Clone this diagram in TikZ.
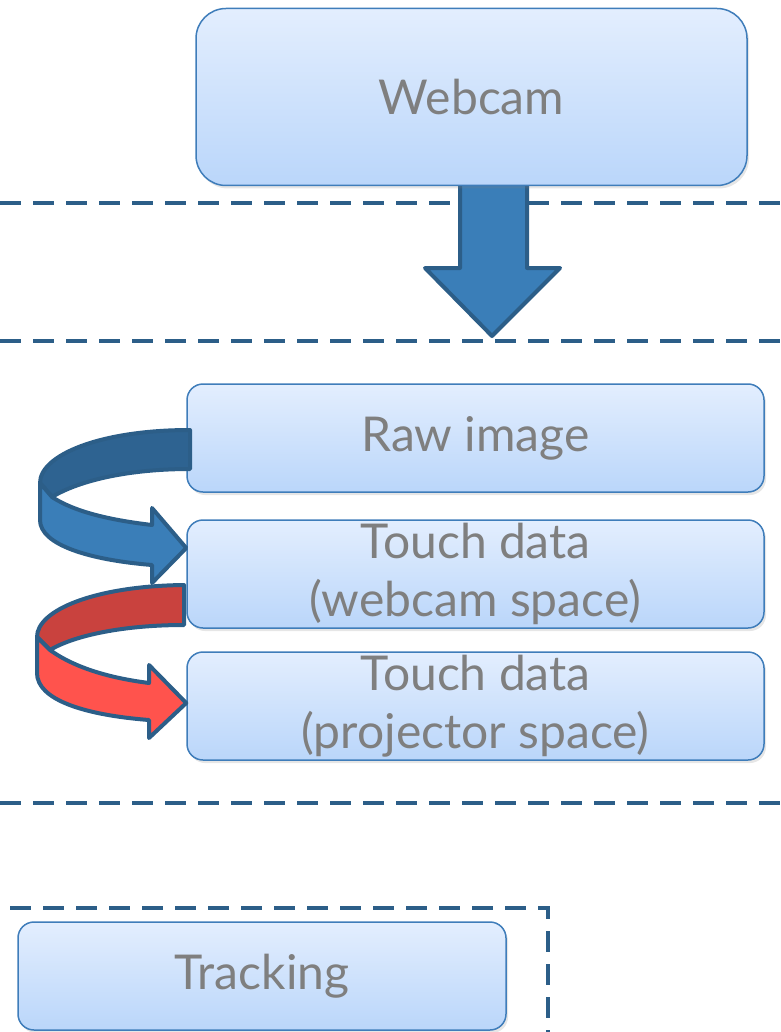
\documentclass[tikz,border=0pt]{standalone}
\usepackage{fontspec}
\setmainfont{Lato}
\usetikzlibrary{shadows,calc}

\definecolor{boxtop}{HTML}{E3EEFE}
\definecolor{boxbot}{HTML}{BAD6FA}
\definecolor{boxline}{HTML}{3F7DBA}
\definecolor{textgray}{HTML}{7F7F7F}
\definecolor{linedark}{HTML}{2C5E88}
\definecolor{arrowblue}{HTML}{3A7EB8}
\definecolor{backblue}{HTML}{2E6391}
\definecolor{redfront}{HTML}{FF534D}
\definecolor{redback}{HTML}{C9423E}

\begin{document}
\begin{tikzpicture}[x=1pt, y=-1pt,
    stagebox/.style={draw=boxline, line width=1.5pt, rounded corners=16pt,
                     top color=boxtop, bottom color=boxbot,
                     drop shadow={opacity=0.2, shadow xshift=2pt, shadow yshift=-3pt},
                     text=textgray, align=center, inner sep=0pt,
                     font=\fontsize{48}{58}\selectfont},
    divider/.style={draw=linedark, line width=4.5pt, dash pattern=on 21pt off 12pt},
    ribbon/.style={draw=linedark, line width=4pt, line join=round}]
    \useasboundingbox (0,0) rectangle (780,1032);

    % Dashed dividers
    \draw[divider] (0,203) -- (780,203);
    \draw[divider] (0,341) -- (780,341);
    \draw[divider] (0,803) -- (780,803);
    \draw[divider] (10,908) -- (548,908) -- (548,1040);

    % Down arrow out of the webcam
    \draw[ribbon, fill=arrowblue] (460,184) -- (460,268) -- (425,268) -- (492,336)
        -- (560,268) -- (527,268) -- (527,184) -- cycle;

    % Stages
    \node[stagebox, minimum width=551pt, minimum height=177pt, rounded corners=30pt]
        (webcam) at (471.5,97) {Webcam};
    \node[stagebox, minimum width=577pt, minimum height=108pt]
        (raw) at (475.5,438) {Raw image};
    \node[stagebox, minimum width=577pt, minimum height=108pt]
        (touchcam) at (475.5,574) {Touch data\\(webcam space)};
    \node[stagebox, minimum width=577pt, minimum height=108pt]
        (touchproj) at (475.5,706) {Touch data\\(projector space)};
    \node[stagebox, minimum width=488pt, minimum height=108pt]
        (tracking) at (262,976) {Tracking};

    % Curved arrow: raw image to touch data
    \draw[ribbon, fill=backblue] (190,430) .. controls (100,430) and (40,455) .. (40,483)
        -- (52,497) .. controls (80,480) and (130,469) .. (190,469) -- cycle;
    \draw[ribbon, fill=arrowblue] (40,483) -- (52,497)
        .. controls (75,512) and (110,520) .. (152,525) -- (152,508) -- (touchcam.west |- 0,548)
        -- (152,583) -- (152,565) .. controls (90,560) and (40,545) .. (40,520) -- cycle;

    % Curved arrow: webcam space to projector space
    \draw[ribbon, fill=redback] (184,585) .. controls (95,586) and (37,610) .. (37,637)
        -- (50,650) .. controls (75,635) and (125,625) .. (184,625) -- cycle;
    \draw[ribbon, fill=redfront] (37,637) -- (50,650)
        .. controls (75,668) and (110,678) .. (149,683) -- (149,665) -- (touchproj.west |- 0,703)
        -- (149,738) -- (149,720) .. controls (85,715) and (37,700) .. (37,673) -- cycle;
\end{tikzpicture}
\end{document}
